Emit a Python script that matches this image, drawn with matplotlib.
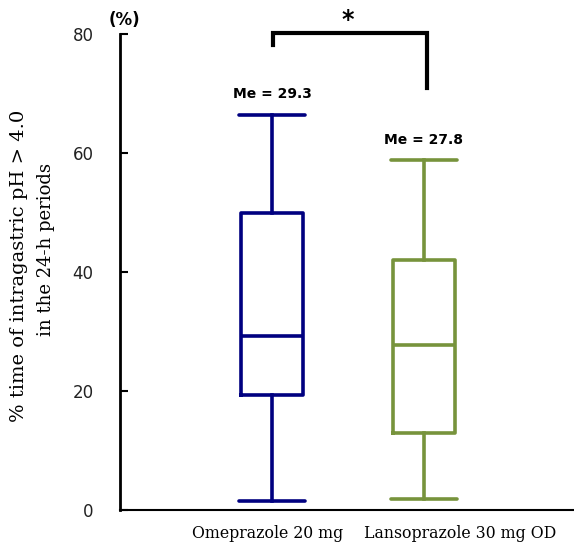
import matplotlib
matplotlib.use('Agg')
import matplotlib.pyplot as plt

# box statistics (%)
groups = ['Omeprazole 20 mg', 'Lansoprazole 30 mg OD']
whislo = [1.5, 1.8]
q1 = [19.3, 12.9]
med = [29.3, 27.8]
q3 = [50.0, 42.0]
whishi = [66.5, 58.8]
colors = ['#000080', '#77933C']
med_labels = ['Me = 29.3', 'Me = 27.8']
yticks = [0, 20, 40, 60, 80]
ylabel_lines = ['% time of intragastric pH > 4.0', 'in the 24-h periods']

W, H = 574, 543
fig = plt.figure(figsize=(W / 100, H / 100), dpi=100)
ax = fig.add_axes([0.209, 0.0608, 0.791, 0.876])

stats = []
for i in range(len(groups)):
    stats.append({'whislo': whislo[i], 'q1': q1[i], 'med': med[i],
                  'q3': q3[i], 'whishi': whishi[i], 'fliers': []})

positions = [1, 2]
for i, s in enumerate(stats):
    c = colors[i]
    ax.bxp([s], positions=[positions[i]], widths=0.41, showfliers=False,
           boxprops=dict(color=c, linewidth=2.6),
           medianprops=dict(color=c, linewidth=2.6),
           whiskerprops=dict(color=c, linewidth=2.6),
           capprops=dict(color=c, linewidth=2.6, solid_capstyle='round'),
           capwidths=0.43)
    ax.text(positions[i], whishi[i] + 2.3, med_labels[i], ha='center', va='bottom',
            fontsize=10, fontweight='bold', family='DejaVu Sans')

ax.set_xlim(0, 2.987)
ax.set_ylim(0, 80)
ax.set_yticks(yticks)
ax.set_yticklabels([str(t) for t in yticks], fontsize=12, color='#222222')
ax.tick_params(axis='y', direction='in', length=6, width=1.5, pad=19)
ax.set_xticks([])

for side in ['top', 'right']:
    ax.spines[side].set_visible(False)
ax.spines['left'].set_linewidth(2)
ax.spines['bottom'].set_linewidth(1.5)

# x labels
ax.text(0.97, -2.6, groups[0], ha='center', va='top', fontsize=11.3, family='DejaVu Serif')
ax.text(2.24, -2.6, groups[1], ha='center', va='top', fontsize=11.3, family='DejaVu Serif')

# y label, two lines
fig.text(19 / W, 1 - 266 / H, ylabel_lines[0], rotation=90, ha='center', va='center',
         fontsize=14, family='DejaVu Serif')
fig.text(46 / W, 1 - 250 / H, ylabel_lines[1], rotation=90, ha='center', va='center',
         fontsize=13, family='DejaVu Serif')

ax.text(0.03, 80.9, '(%)', ha='center', va='bottom', fontsize=12, fontweight='bold')

# significance bracket
ax.plot([1.01, 1.01, 2.02, 2.02], [78.2, 80.3, 80.3, 70.9], color='black',
        linewidth=3, clip_on=False, solid_joinstyle='miter')
ax.text(1.5, 80.4, '*', ha='center', va='bottom', fontsize=17, fontweight='bold')

fig.savefig('out.png', dpi=100)
